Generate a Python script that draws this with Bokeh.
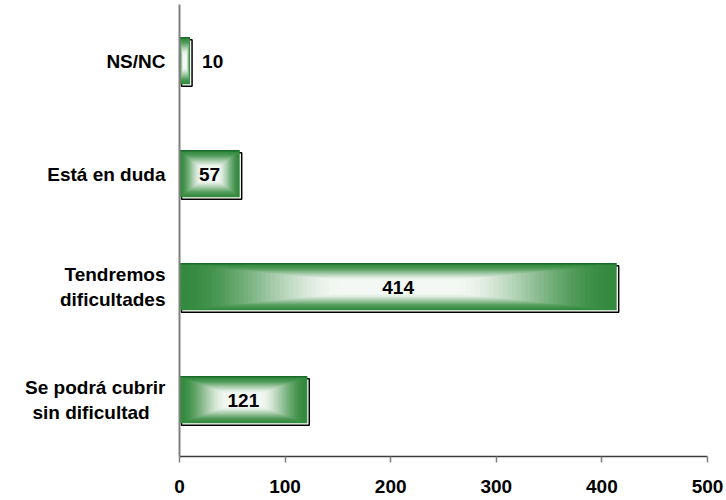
from bokeh.plotting import figure
from bokeh.models import Range1d, FixedTicker, ColumnDataSource
from bokeh.embed import file_html
from bokeh.resources import INLINE
from bokeh.core.properties import value

# ---- data (bottom to top) ----
categories = ["Se podrá cubrir\nsin dificultad", "Tendremos\ndificultades", "Está en duda", "NS/NC"]
counts = [121, 414, 57, 10]
x_ticks = [0, 100, 200, 300, 400, 500]

FONT = "Liberation Sans"
W, H = 724, 498
BL, BR, BT, BB = 179, 17, 4, 42
p = figure(width=W, height=H, output_backend="svg", toolbar_location=None,
           x_range=Range1d(0, 500), y_range=Range1d(-0.5, 3.5),
           min_border_left=BL, min_border_right=BR, min_border_top=BT, min_border_bottom=BB)
p.outline_line_color = None
p.xgrid.visible = False
p.ygrid.visible = False
p.background_fill_color = "white"
p.border_fill_color = "white"

bar_h = 0.41
px_x = 500 / (W - BL - BR)
px_y = 4.0 / (H - BT - BB)
dx = 2 * px_x
dy = 2 * px_y

# shadow
ys = list(range(len(categories)))
shadow = ColumnDataSource(dict(
    left=[dx for _ in counts], right=[v + dx for v in counts],
    top=[y + bar_h / 2 - dy for y in ys], bottom=[y - bar_h / 2 - dy for y in ys]))
p.quad(left="left", right="right", top="top", bottom="bottom", source=shadow,
       fill_color="white", line_color="black", line_width=1.5)

# rectangular (path) gradient from green edges to white centre
edge = (52, 138, 62)
core = (244, 248, 244)
N = 48


def ease(t, a=0.0, b=0.75):
    s = min(max((t - a) / (b - a), 0.0), 1.0)
    return s * s * (3 - 2 * s)


L, R, B, T, C = [], [], [], [], []
for i in range(N):
    t = i / N
    f = ease(t)
    col = "#%02x%02x%02x" % tuple(int(round(e + (c - e) * f)) for e, c in zip(edge, core))
    for y, v in zip(ys, counts):
        hw = v / 2 * (1 - t)
        hh = bar_h / 2 * (1 - t)
        L.append(v / 2 - hw); R.append(v / 2 + hw)
        B.append(y - hh); T.append(y + hh); C.append(col)
grad = ColumnDataSource(dict(left=L, right=R, top=T, bottom=B, color=C))
p.quad(left="left", right="right", top="top", bottom="bottom", source=grad,
       fill_color="color", line_color=None)

# top edge of bars (darker green)
p.segment(x0=[0 for _ in counts], x1=counts, y0=[y + bar_h / 2 for y in ys],
          y1=[y + bar_h / 2 for y in ys], line_color="#1a6a2c", line_width=1.5)

# value labels
lx, la = [], []
for v in counts:
    if v >= 30:
        lx.append(v / 2); la.append("center")
    else:
        lx.append(v + 12 * px_x); la.append("left")
labels = ColumnDataSource(dict(x=lx, y=ys, text=[str(v) for v in counts], align=la))
p.text(x="x", y="y", text="text", source=labels, text_align="align", text_baseline="middle",
       text_font=value(FONT), text_font_style="bold", text_font_size="19px", text_color="black")

# axes
xa = p.xaxis[0]
xa.ticker = FixedTicker(ticks=x_ticks)
xa.minor_tick_line_color = None
xa.major_tick_in = 0
xa.major_tick_out = 6
xa.major_tick_line_color = "#808080"
xa.major_tick_line_width = 1.5
xa.axis_line_color = "#3c3c3c"
xa.axis_line_width = 1.5
xa.major_label_text_font = FONT
xa.major_label_text_font_style = "bold"
xa.major_label_text_font_size = "19px"
xa.major_label_text_color = "black"
xa.major_label_standoff = 17

# visually centre the shorter line of two-line labels (non-breaking spaces)
display = {}
for y, c in zip(ys, categories):
    if c.startswith("Se podr"):
        a, b = c.split("\n")
        c = a + "\n" + b + "\u00a0\u00a0\u00a0"
    display[y] = c

ya = p.yaxis[0]
ya.ticker = FixedTicker(ticks=ys)
ya.major_label_overrides = display
ya.minor_tick_line_color = None
ya.major_tick_line_color = None
ya.major_tick_in = 0
ya.major_tick_out = 0
ya.axis_line_color = "#808080"
ya.axis_line_width = 2
ya.major_label_text_font = FONT
ya.major_label_text_font_style = "bold"
ya.major_label_text_font_size = "19px"
ya.major_label_text_color = "black"
ya.major_label_standoff = 14

open("out.html", "w").write(file_html(p, INLINE))
